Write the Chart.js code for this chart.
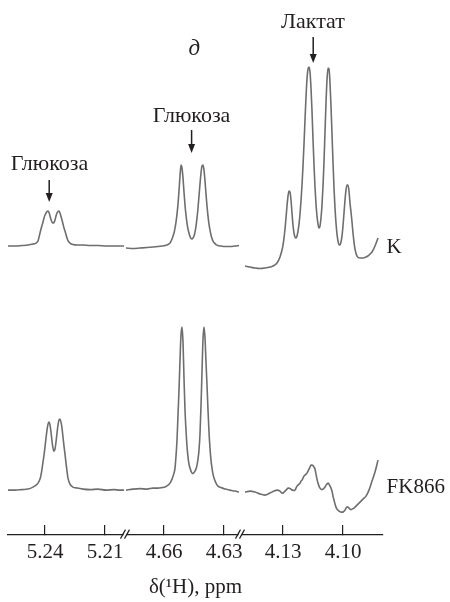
<!DOCTYPE html>
<html lang="ru">
<head>
<meta charset="utf-8">
<title>1H NMR — K / FK866</title>
<script src="https://cdn.jsdelivr.net/npm/chart.js@4.4.1/dist/chart.umd.min.js"></script>
<style>
  html, body { margin: 0; padding: 0; background: #ffffff; }
  #wrap { width: 450px; height: 602px; }
</style>
</head>
<body>
<div id="wrap"><canvas id="nmrChart" width="450" height="602"></canvas></div>
<script>
// chemical shift windows (ppm, left edge -> right edge) of the broken axis
const seg1Range = [5.2585, 5.2000];
const seg2Range = [4.6795, 4.6220];
const seg3Range = [4.1515, 4.0800];

const seg1Ticks = [5.24, 5.21];
const seg2Ticks = [4.66, 4.63];
const seg3Ticks = [4.13, 4.10];

// glucose (alpha-anomer) window
const seg1Ppm = [5.2585, 5.2550, 5.2515, 5.2485, 5.2460, 5.2445, 5.2435, 5.2425, 5.2420, 5.2415,
  5.2410, 5.2405, 5.2400, 5.2395, 5.2390, 5.2385, 5.2380, 5.2375, 5.2370, 5.2365,
  5.2360, 5.2355, 5.2350, 5.2345, 5.2340, 5.2335, 5.2330, 5.2325, 5.2320, 5.2315,
  5.2310, 5.2305, 5.2300, 5.2295, 5.2290, 5.2285, 5.2275, 5.2260, 5.2240, 5.2210,
  5.2175, 5.2135, 5.2095, 5.2055, 5.2025, 5.2005];
const seg1K = [288, 288, 288.5, 289, 290, 291, 293, 301, 305, 308.5,
  312, 316, 319, 321, 322.5, 323, 321.5, 318, 314.5, 312,
  311, 311.5, 314, 318, 321, 322.5, 323, 321, 317.5, 314,
  310, 306, 303, 299.5, 296, 293.5, 291, 289.5, 289, 289,
  288.5, 288.5, 288, 288, 288, 288];
const seg1FK = [44, 44, 44.5, 45, 47, 49, 51, 55, 59, 65,
  72, 79, 87, 96, 104, 110, 112, 109, 102, 93,
  86, 83, 85, 92, 101, 109, 114, 115, 112, 106,
  97, 88, 80, 71, 63, 56, 50, 47, 46, 45,
  44.5, 45, 44, 44.5, 44, 44];

// glucose (beta-anomer) window
const seg2Ppm = [4.6790, 4.6755, 4.6720, 4.6685, 4.6655, 4.6630, 4.6610, 4.6595, 4.6580, 4.6570,
  4.6560, 4.6550, 4.6545, 4.6540, 4.6535, 4.6530, 4.6525, 4.6520, 4.6515, 4.6510,
  4.6505, 4.6500, 4.6495, 4.6490, 4.6485, 4.6480, 4.6475, 4.6470, 4.6465, 4.6460,
  4.6455, 4.6450, 4.6445, 4.6440, 4.6435, 4.6430, 4.6425, 4.6420, 4.6415, 4.6410,
  4.6405, 4.6400, 4.6395, 4.6390, 4.6385, 4.6380, 4.6375, 4.6370, 4.6365, 4.6360,
  4.6355, 4.6350, 4.6340, 4.6330, 4.6315, 4.6295, 4.6270, 4.6245, 4.6225];
const seg2K = [286, 285.5, 286, 286.5, 287, 287.5, 288, 288.5, 289.5, 291,
  295, 301, 306, 312, 320, 330, 343, 358, 369, 366,
  356, 342, 329, 319, 311, 305, 301, 297.5, 295.5, 295,
  296, 298, 302, 308, 316, 326, 338, 350, 361, 368,
  369, 364, 353, 340, 328, 318, 310, 304, 299, 295.5,
  293, 291.5, 289.5, 288.5, 288, 287.5, 287.5, 288, 288.5];
const seg2FK = [44, 45, 45.5, 45, 46, 46, 46.5, 47, 49, 51,
  55, 61, 66, 78, 94, 119, 144, 174, 199, 207,
  192, 156, 124, 104, 88, 77, 70, 66, 63, 61,
  60.5, 61.5, 63, 65, 69, 75, 84, 100, 128, 162,
  195, 207, 196, 172, 149, 124, 102, 86, 74, 66,
  60, 56, 51, 48, 46.5, 45, 44, 43, 42];

// lactate window
const seg3Ppm = [4.1490, 4.1465, 4.1440, 4.1415, 4.1390, 4.1365, 4.1345, 4.1330, 4.1315, 4.1305,
  4.1300, 4.1295, 4.1290, 4.1285, 4.1280, 4.1275, 4.1270, 4.1265, 4.1260, 4.1255,
  4.1250, 4.1245, 4.1240, 4.1235, 4.1230, 4.1225, 4.1220, 4.1215, 4.1210, 4.1205,
  4.1200, 4.1195, 4.1190, 4.1185, 4.1180, 4.1175, 4.1170, 4.1165, 4.1160, 4.1155,
  4.1150, 4.1145, 4.1140, 4.1135, 4.1130, 4.1125, 4.1120, 4.1115, 4.1110, 4.1105,
  4.1100, 4.1095, 4.1090, 4.1085, 4.1080, 4.1075, 4.1070, 4.1065, 4.1060, 4.1055,
  4.1050, 4.1045, 4.1040, 4.1035, 4.1030, 4.1025, 4.1020, 4.1015, 4.1010, 4.1005,
  4.1000, 4.0995, 4.0990, 4.0985, 4.0980, 4.0975, 4.0970, 4.0965, 4.0960, 4.0955,
  4.0950, 4.0945, 4.0940, 4.0930, 4.0915, 4.0900, 4.0885, 4.0870, 4.0855, 4.0840,
  4.0825];
const seg3K = [268, 267, 266, 265.5, 266, 267, 268.5, 271, 277, 284,
  289, 296, 305, 316, 328, 338, 343, 342, 334, 321,
  309, 301, 297, 296, 298, 303, 310, 320, 333, 349,
  368, 390, 414, 437, 455, 465, 467, 462, 446, 423,
  395, 369, 347, 330, 318, 310, 306, 308, 316, 329,
  348, 372, 402, 431, 454, 466, 465, 451, 428, 400,
  372, 346, 326, 311, 300, 293, 289.5, 289, 292, 298,
  308, 321, 334, 344, 349, 349, 343, 331, 322, 312,
  301, 292, 285, 278, 276, 276, 277, 279, 282, 288,
  296];
const seg3FK = [42, 43, 42, 40, 39, 41, 43, 44, 43, 41,
  41, 42, 43, 44, 45, 46, 46, 45.5, 45, 44,
  44, 43.5, 44, 46, 48, 49, 50, 51, 53, 54,
  56, 58, 59, 60, 61, 63, 65, 67, 69, 69,
  68.5, 67, 65, 60, 55, 51, 48, 46, 45, 44.5,
  45, 46, 47, 49, 50, 51, 50, 48, 46, 43,
  38, 34, 30, 27, 25, 24, 23, 22.5, 22, 22,
  22, 23, 24, 26, 27, 27, 26, 25, 24.5, 25,
  25.5, 26, 27, 29, 32, 35, 38, 44, 53, 62,
  74];

const textColor = '#231f20';
const traceColor = '#6e6e6e';
const serif = '"Liberation Serif", "Times New Roman", serif';

// annotations (axis id, ppm, intensity of the text baseline)
const peakLabels = [
  { text: 'Лактат', axis: 'x3', ppm: 4.1150, y: 506, size: 22 },
  { text: 'д', axis: 'x2', ppm: 4.6448, y: 479, size: 23, italic: true },
  { text: 'Глюкоза', axis: 'x2', ppm: 4.6462, y: 412, size: 22 },
  { text: 'Глюкоза', axis: 'x1', ppm: 5.2378, y: 364, size: 22 },
  { text: 'K', axis: 'x3', ppm: 4.0782, y: 281, size: 21, align: 'left' },
  { text: 'FK866', axis: 'x3', ppm: 4.0782, y: 41, size: 21, align: 'left' },
];
const peakArrows = [
  { axis: 'x3', ppm: 4.1149, from: 497, to: 471 },
  { axis: 'x2', ppm: 4.6462, from: 404, to: 381 },
  { axis: 'x1', ppm: 5.2379, from: 354, to: 332 },
];

function toPoints(ppm, values) {
  return ppm.map((p, i) => ({ x: p, y: values[i] }));
}

function trace(ppm, values, axisId) {
  return {
    data: toPoints(ppm, values),
    xAxisID: axisId,
    yAxisID: 'y',
    borderColor: traceColor,
    borderWidth: 1.6,
    pointRadius: 0,
    fill: false,
    cubicInterpolationMode: 'monotone',
  };
}

function segmentAxis(range, tickValues) {
  return {
    type: 'linear',
    position: 'bottom',
    stack: 'ppm',
    stackWeight: range[0] - range[1],
    reverse: true,
    bounds: 'data',
    min: range[1],
    max: range[0],
    afterBuildTicks: (axis) => {
      axis.ticks = tickValues.map((v) => ({ value: v }));
    },
    afterFit: (axis) => {
      // labels sit well inside each window, no side padding needed
      axis.paddingLeft = 0;
      axis.paddingRight = 0;
    },
    ticks: {
      color: textColor,
      font: { family: serif, size: 21 },
      padding: 15,
      maxRotation: 0,
      autoSkip: false,
      callback: (v) => Number(v).toFixed(2),
    },
    grid: {
      display: true,
      drawOnChartArea: false,
      drawTicks: true,
      tickLength: -9,
      color: textColor,
      lineWidth: 1.2,
    },
    border: { display: true, color: textColor, width: 1.2 },
  };
}

// labels, arrows and the "//" breaks on the axis
const nmrDecor = {
  id: 'nmrDecor',
  afterDraw(chart) {
    const ctx = chart.ctx;
    const yScale = chart.scales.y;
    ctx.save();
    ctx.fillStyle = textColor;
    ctx.strokeStyle = textColor;

    peakLabels.forEach((l) => {
      ctx.font = (l.italic ? 'italic ' : '') + l.size + 'px ' + serif;
      ctx.textAlign = l.align || 'center';
      ctx.textBaseline = 'alphabetic';
      ctx.fillText(l.text, chart.scales[l.axis].getPixelForValue(l.ppm), yScale.getPixelForValue(l.y));
    });

    ctx.lineWidth = 1.5;
    peakArrows.forEach((a) => {
      const x = chart.scales[a.axis].getPixelForValue(a.ppm);
      const y1 = yScale.getPixelForValue(a.from);
      const y2 = yScale.getPixelForValue(a.to);
      ctx.beginPath();
      ctx.moveTo(x, y1);
      ctx.lineTo(x, y2 - 6);
      ctx.stroke();
      ctx.beginPath();
      ctx.moveTo(x - 3.5, y2 - 9);
      ctx.lineTo(x + 3.5, y2 - 9);
      ctx.lineTo(x, y2);
      ctx.closePath();
      ctx.fill();
    });

    const axisY = chart.chartArea.bottom;
    [chart.scales.x1.right, chart.scales.x2.right].forEach((bx) => {
      ctx.fillStyle = '#ffffff';
      ctx.fillRect(bx - 1.4, axisY - 2, 2.8, 4);
      ctx.lineWidth = 1.2;
      [-2, 2].forEach((s) => {
        ctx.beginPath();
        ctx.moveTo(bx + s - 2.5, axisY + 4.5);
        ctx.lineTo(bx + s + 2.5, axisY - 4.5);
        ctx.stroke();
      });
    });
    ctx.restore();
  },
};

const ctx = document.getElementById('nmrChart').getContext('2d');
new Chart(ctx, {
  type: 'line',
  data: {
    datasets: [
      trace(seg1Ppm, seg1K, 'x1'),
      trace(seg2Ppm, seg2K, 'x2'),
      trace(seg3Ppm, seg3K, 'x3'),
      trace(seg1Ppm, seg1FK, 'x1'),
      trace(seg2Ppm, seg2FK, 'x2'),
      trace(seg3Ppm, seg3FK, 'x3'),
    ],
  },
  options: {
    responsive: false,
    animation: false,
    devicePixelRatio: 1,
    layout: { padding: { left: 8, right: 67, top: 14, bottom: 0 } },
    plugins: {
      legend: { display: false },
      tooltip: { enabled: false },
      title: {
        display: true,
        text: 'δ(¹H), ppm',
        position: 'bottom',
        fullSize: false,
        color: textColor,
        font: { family: serif, size: 21, weight: 'normal', lineHeight: 0.7 },
        padding: { top: 0, bottom: 7 },
      },
    },
    scales: {
      x1: segmentAxis(seg1Range, seg1Ticks),
      x2: segmentAxis(seg2Range, seg2Ticks),
      x3: segmentAxis(seg3Range, seg3Ticks),
      y: { type: 'linear', display: false, min: 0, max: 520 },
    },
  },
  plugins: [nmrDecor],
});
</script>
</body>
</html>
